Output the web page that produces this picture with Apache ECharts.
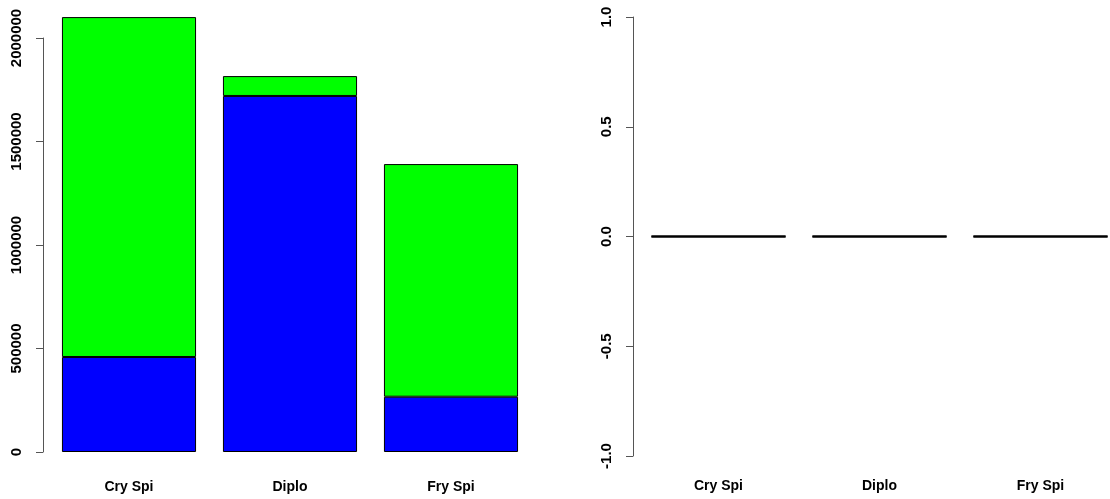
<!DOCTYPE html>
<html>
<head>
<meta charset="utf-8">
<script src="https://cdn.jsdelivr.net/npm/echarts@6/dist/echarts.min.js"></script>
<style>html,body{margin:0;padding:0;background:#fff;overflow:hidden}#c{width:1125px;height:499px}</style>
</head>
<body>
<div id="c"></div>
<script>
var categories = ['Cry Spi', 'Diplo', 'Fry Spi'];
var leftBlue = [459000, 1720000, 267000];
var leftGreen = [1642000, 96000, 1124000];
var rightBlue = [0, 0, 0];
var rightGreen = [0, 0, 0];

var font = 'Liberation Sans, Arial, sans-serif';
var chart = echarts.init(document.getElementById('c'));
chart.setOption({
  animation: false,
  grid: [
    {left: 48.5, width: 483, top: 38, bottom: 47},
    {left: 638, width: 483, top: 17, bottom: 43}
  ],
  xAxis: [
    {gridIndex: 0, type: 'category', data: categories,
     axisLine: {show: false}, axisTick: {show: false}, splitLine: {show: false},
     axisLabel: {margin: 28, fontFamily: font, fontSize: 14, fontWeight: 'bold', color: '#000'}},
    {gridIndex: 1, type: 'category', data: categories,
     axisLine: {show: false}, axisTick: {show: false}, splitLine: {show: false},
     axisLabel: {margin: 23, fontFamily: font, fontSize: 14, fontWeight: 'bold', color: '#000'}}
  ],
  yAxis: [
    {gridIndex: 0, type: 'value', min: 0, max: 2000000, interval: 500000, offset: 5.5,
     splitLine: {show: false},
     axisLine: {show: true, lineStyle: {color: '#555', width: 1}},
     axisTick: {show: true, length: 7, lineStyle: {color: '#555'}},
     axisLabel: {rotate: 90, margin: 19, fontFamily: font, fontSize: 15, fontWeight: 'bold', color: '#000',
       formatter: function (v) { return String(v); }}},
    {gridIndex: 1, type: 'value', min: -1, max: 1, interval: 0.5, offset: 5,
     splitLine: {show: false},
     axisLine: {show: true, lineStyle: {color: '#555', width: 1}},
     axisTick: {show: true, length: 7, lineStyle: {color: '#555'}},
     axisLabel: {rotate: 90, margin: 19, fontFamily: font, fontSize: 15, fontWeight: 'bold', color: '#000',
       formatter: function (v) { return v.toFixed(1); }}}
  ],
  series: [
    {type: 'bar', xAxisIndex: 0, yAxisIndex: 0, stack: 'a', data: leftBlue, clip: false,
     barCategoryGap: '16.7%', itemStyle: {color: '#0000FF', borderColor: '#000', borderWidth: 1}},
    {type: 'bar', xAxisIndex: 0, yAxisIndex: 0, stack: 'a', data: leftGreen, clip: false,
     barCategoryGap: '16.7%', itemStyle: {color: '#00FF00', borderColor: '#000', borderWidth: 1}},
    {type: 'bar', xAxisIndex: 1, yAxisIndex: 1, stack: 'b', data: rightBlue, clip: false,
     barCategoryGap: '16.7%', itemStyle: {color: '#0000FF', borderColor: '#000', borderWidth: 2}},
    {type: 'bar', xAxisIndex: 1, yAxisIndex: 1, stack: 'b', data: rightGreen, clip: false,
     barCategoryGap: '16.7%', itemStyle: {color: '#00FF00', borderColor: '#000', borderWidth: 2}}
  ]
});
</script>
</body>
</html>
